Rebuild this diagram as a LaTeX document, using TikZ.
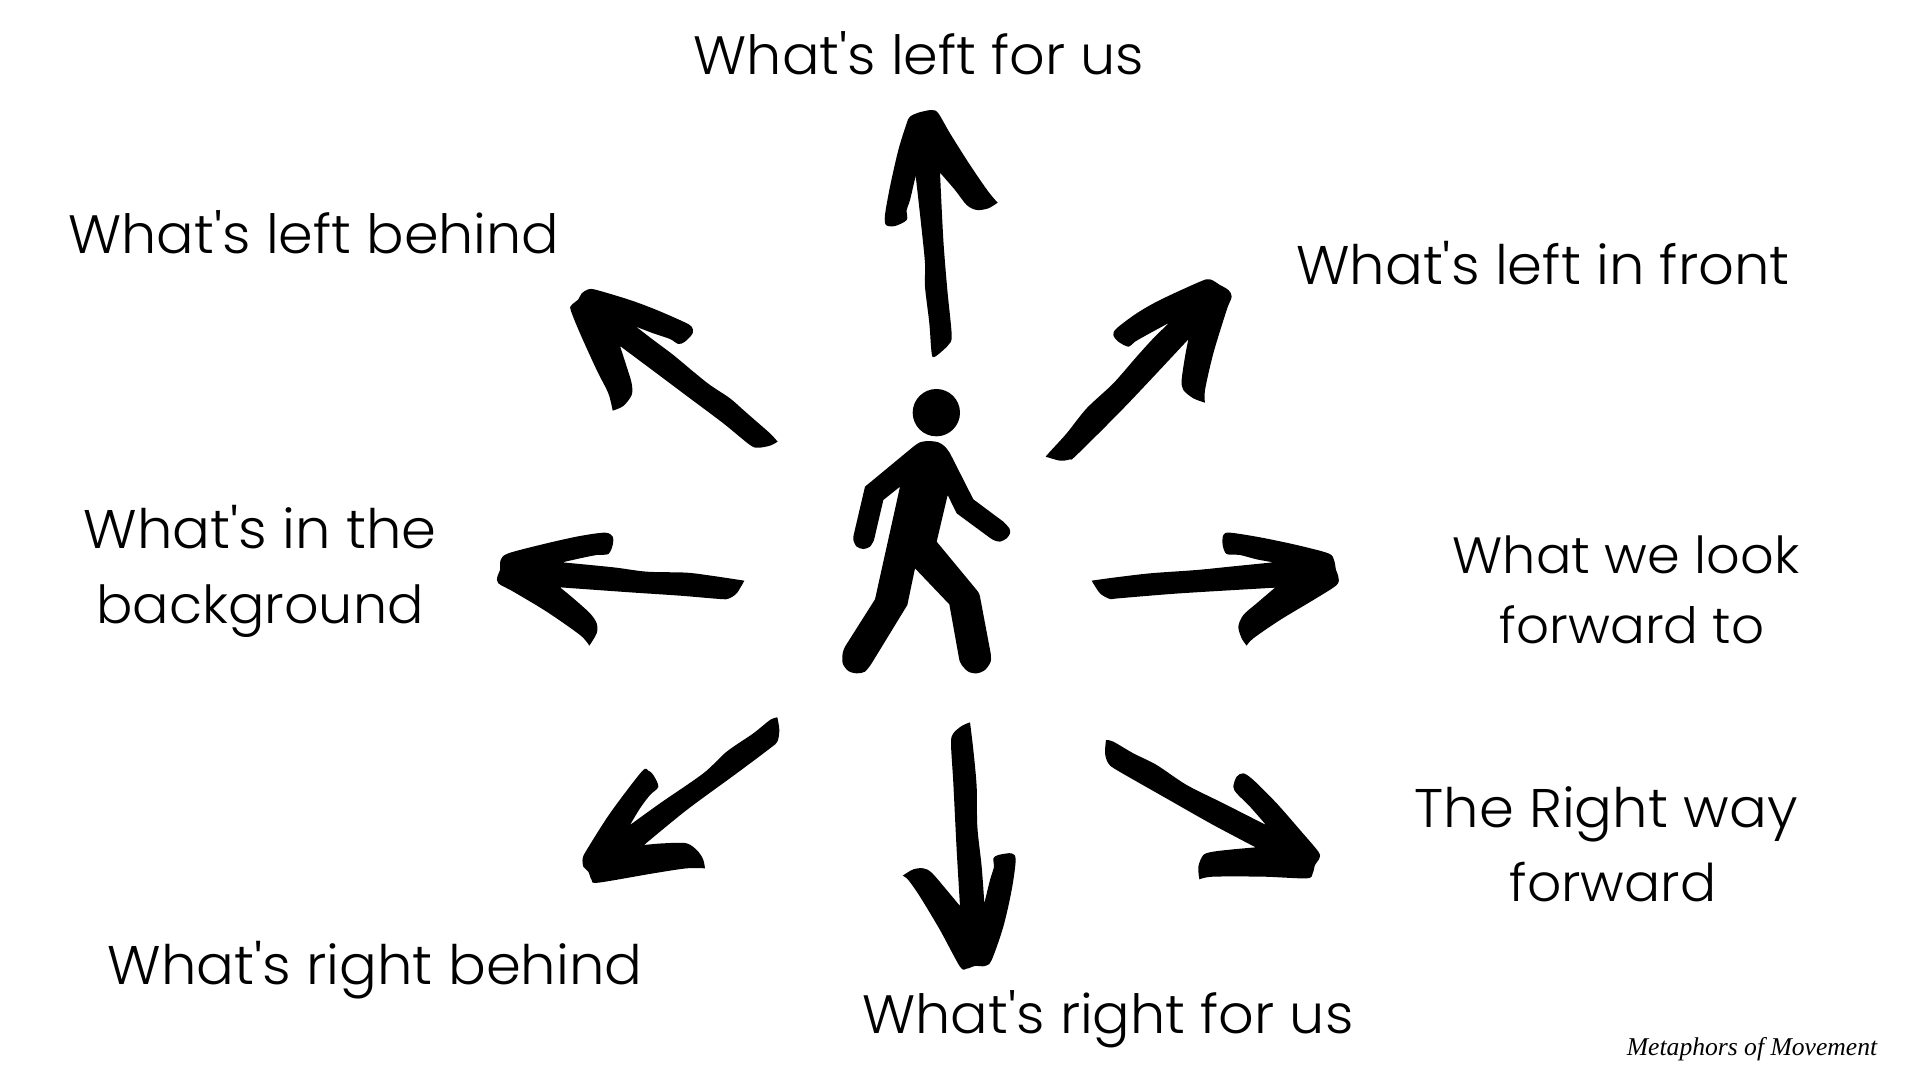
\documentclass[tikz,border=0pt]{standalone}
\usepackage{fontspec}
\newfontfamily\labelfont{Poppins Light}[FakeStretch=1.03]
\newfontfamily\signfont{Liberation Serif}
\tikzset{
  x=0.5pt,y=-0.5pt,
  ink/.style={fill=black,draw=none},
  brush/.style={smooth,tension=0.5},
  caption/.style={anchor=base,inner sep=0pt,font=\labelfont\fontsize{#1}{32}\selectfont,text=black},
  caption/.default=27,
  signature/.style={anchor=base,inner sep=0pt,font=\signfont\itshape\fontsize{12.8}{16}\selectfont,text=black},
  zoomed/.style={scale=0.33333}
}
\begin{document}
\begin{tikzpicture}
\useasboundingbox (0,0) rectangle (1920,1080);
\fill[white] (0,0) rectangle (1920,1080);

% Walking figure
\begin{scope}[shift={(820,370)},zoomed]
  \fill[ink] (349,128) circle (71);
  \fill[ink] (240,350) -- (190,390)
    -- plot[brush] coordinates {(162,510)(150,530)(130,537)(110,530)(100,510)(101,495)}
    -- plot[brush] coordinates {(135,350)}
    -- plot[brush] coordinates {(280,230)(300,217)(325,213)(355,217)(375,230)(390,250)}
    -- (460,388)
    -- plot[brush] coordinates {(550,455)(568,475)(570,490)(560,505)(540,515)(520,510)(505,500)}
    -- (410,430) -- (383,375) -- (350,515)
    -- plot[brush] coordinates {(470,660)(477,670)(480,680)}
    -- plot[brush] coordinates {(512,850)(512,875)(495,900)(470,910)(445,905)(425,885)(418,870)}
    -- (388,703) -- (285,595) -- (262,705)
    -- plot[brush] coordinates {(155,880)(135,905)(110,910)(85,903)(68,880)(68,850)(75,830)}
    -- (165,688) -- cycle;
\end{scope}

% Arrows pointing up and up-right
\begin{scope}[shift={(860,90)},zoomed]
  \fill[ink] plot[brush] coordinates {(167,257)(150,330)(140,360)(140,390)(105,408)(78,405)(75,375)(90,290)(115,180)(140,100)(150,80)(175,68)(215,60)(235,70)(270,130)(330,225)(385,305)(413,338)}
    -- plot[brush] coordinates {(413,338)(385,355)(350,360)(320,345)(285,300)(240,248)}
    -- plot[brush] coordinates {(240,248)(250,450)(262,600)(275,735)(265,765)(225,800)(215,790)(208,700)(195,590)(195,520)(183,400)(167,257)} -- cycle;
  \fill[ink] plot[brush] coordinates {(557,1100)(600,1112)(630,1108)(650,1095)(800,945)(985,748)}
    -- plot[brush] coordinates {(985,748)(975,800)(965,870)(970,900)(1000,925)(1035,938)}
    -- plot[brush] coordinates {(1035,938)(1035,900)(1060,790)(1100,660)(1115,620)(1105,600)(1080,585)(1050,568)(1020,575)(900,630)(830,670)(770,715)(760,735)(775,755)(805,770)(825,755)(860,735)(928,698)}
    -- plot[brush] coordinates {(928,698)(880,745)(830,800)(760,880)(680,955)(620,1030)(570,1085)(557,1100)} -- cycle;
\end{scope}

% Arrow pointing up-left
\begin{scope}[shift={(540,270)},zoomed]
  \fill[ink] plot[brush] coordinates {(713,515)(690,490)(650,455)(610,420)(570,385)(510,345)(460,305)(400,255)(340,210)(288,170)}
    -- plot[brush] coordinates {(288,170)(340,190)(390,207)(415,222)(435,215)(458,190)(455,170)(430,155)(350,120)(270,90)(170,60)(145,58)(125,70)(115,88)(95,105)(92,120)(120,190)(170,300)(205,370)(218,422)}
    -- plot[brush] coordinates {(218,422)(250,408)(275,375)(275,340)(260,290)(240,228)}
    -- plot[brush] coordinates {(240,228)(350,310)(450,385)(550,460)(630,525)(655,533)(690,527)(713,515)} -- cycle;
\end{scope}

% Arrow pointing left
\begin{scope}[shift={(480,510)},zoomed]
  \fill[ink] plot[brush] coordinates {(793,212)(770,250)(745,266)(720,267)(600,257)(450,247)(240,232)}
    -- plot[brush] coordinates {(240,232)(280,265)(330,310)(350,340)(350,370)(328,407)}
    -- plot[brush] coordinates {(328,407)(300,375)(200,305)(100,245)(55,220)(52,200)(60,180)(62,150)(85,130)(200,100)(300,78)(375,68)(398,80)(398,105)(385,132)(350,135)(300,145)(247,157)}
    -- plot[brush] coordinates {(247,157)(400,172)(500,185)(620,188)(700,198)(793,212)} -- cycle;
\end{scope}

% Arrows pointing right and down-right
\begin{scope}[shift={(1080,510)},zoomed]
  \fill[ink] plot[brush] coordinates {(35,212)(60,250)(90,267)(115,265)(300,250)(585,233)}
    -- plot[brush] coordinates {(585,233)(530,280)(490,315)(475,350)(485,385)(500,407)}
    -- plot[brush] coordinates {(500,407)(520,385)(600,330)(700,270)(770,225)(775,200)(768,180)(762,150)(745,130)(650,105)(540,82)(450,68)(430,75)(428,105)(440,132)(480,135)(530,148)(580,157)}
    -- plot[brush] coordinates {(580,157)(450,170)(350,180)(210,190)(100,203)(35,212)} -- cycle;
  \fill[ink] plot[brush] coordinates {(78,690)(100,695)(160,730)(230,765)(320,825)(430,880)(558,945)}
    -- plot[brush] coordinates {(558,945)(510,890)(470,850)(460,830)(470,800)(490,790)(520,810)(590,880)(660,960)(715,1025)(718,1045)(705,1065)(698,1090)(680,1105)(550,1100)(400,1100)(358,1108)}
    -- plot[brush] coordinates {(358,1108)(355,1070)(370,1035)(400,1025)(460,1018)(527,1012)}
    -- plot[brush] coordinates {(527,1012)(400,945)(250,860)(110,780)(85,760)(75,730)(78,690)} -- cycle;
\end{scope}

% Arrows pointing down-left and down
\begin{scope}[shift={(570,700)},zoomed]
  \fill[ink] plot[brush] coordinates {(622,52)(628,90)(622,125)(600,145)(500,220)(350,330)(222,435)}
    -- plot[brush] coordinates {(222,435)(280,430)(350,430)(385,455)(400,480)(405,505)}
    -- plot[brush] coordinates {(405,505)(350,505)(250,520)(85,548)(65,540)(55,515)(40,500)(38,475)(50,450)(120,340)(215,215)(235,212)(250,225)(265,260)(240,285)(210,325)(180,375)}
    -- plot[brush] coordinates {(180,375)(270,310)(400,220)(470,155)(550,100)(600,60)(622,52)} -- cycle;
  \fill[ink] plot[brush] coordinates {(1200,67)(1210,150)(1220,260)(1222,380)(1235,500)(1243,610)}
    -- plot[brush] coordinates {(1243,610)(1260,540)(1272,500)(1270,475)(1285,465)(1325,460)(1337,480)(1325,570)(1300,680)(1265,780)(1245,798)(1215,798)(1190,806)(1170,800)(1110,690)(1050,590)(1015,540)(998,527)}
    -- plot[brush] coordinates {(998,527)(1030,508)(1060,505)(1085,518)(1130,570)(1170,618)}
    -- plot[brush] coordinates {(1170,618)(1160,450)(1150,250)(1143,130)(1150,100)(1175,78)(1200,67)} -- cycle;
\end{scope}

% Captions
\node[caption] (leftus) at (919,75) {What's left for us};
\node[caption] (leftbehind) at (314,254) {What's left behind};
\node[caption=27.2] (leftfront) at (1543,285) {What's left in front};
\node[caption=27.2] (background1) at (260,548) {What's in the};
\node[caption=26.2] (background2) at (260,623) {background};
\node[caption=25.5] (forward1) at (1626,573) {What we look};
\node[caption=25] (forward2) at (1632,643) {forward to};
\node[caption=27.2] (rightway1) at (1606,827) {The Right way};
\node[caption=26] (rightway2) at (1613,901) {forward};
\node[caption=27.2] (rightbehind) at (375,984) {What's right behind};
\node[caption] (rightus) at (1108,1033) {What's right for us};
\node[signature] (credit) at (1752,1055) {Metaphors of Movement};
\end{tikzpicture}
\end{document}
